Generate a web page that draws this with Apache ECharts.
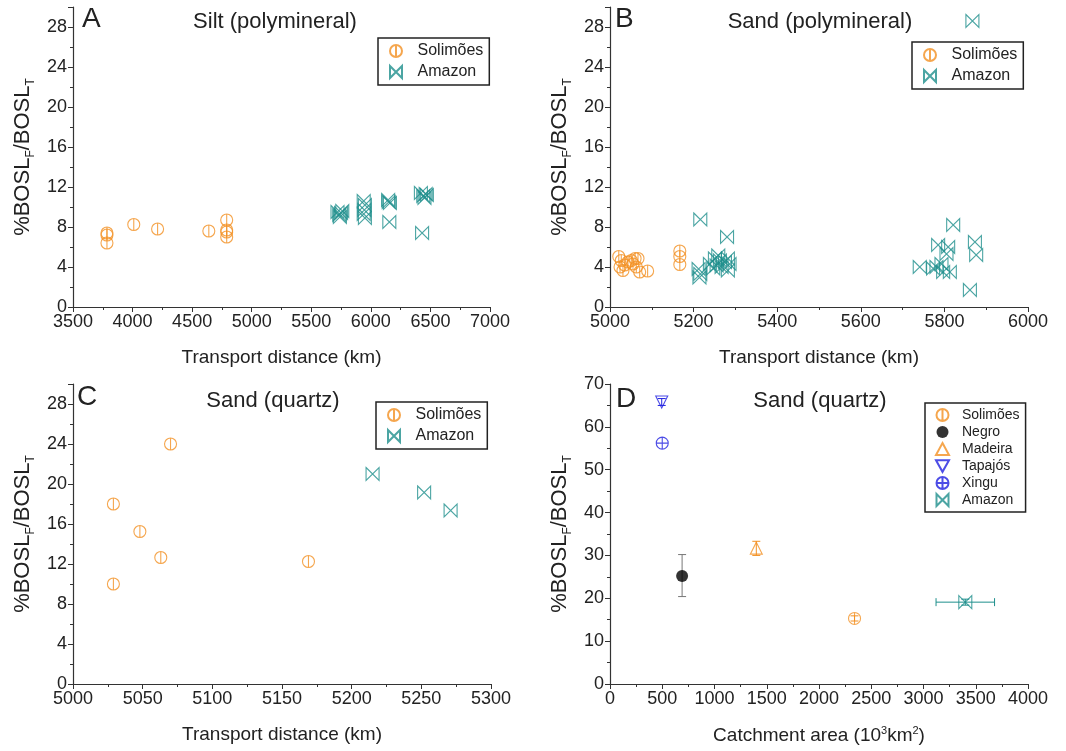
<!DOCTYPE html>
<html>
<head>
<meta charset="utf-8">
<script src="https://cdn.jsdelivr.net/npm/echarts@6/dist/echarts.min.js"></script>
<style>
  html, body { margin: 0; padding: 0; background: #fff; }
  #main { width: 1066px; height: 751px; }
</style>
</head>
<body>
<div id="main"></div>
<script>
// ---- data ----
// A: silt (polymineral), [transport distance km, %BOSLF/BOSLT]
var siltSolimoes = [[3785, 7.4], [3785, 7.2], [3785, 6.4], [4010, 8.25], [4210, 7.8],
  [4640, 7.6], [4790, 8.7], [4790, 7.7], [4790, 7.5], [4790, 7.0]];
var siltAmazon = [[5720, 9.5], [5735, 9.2], [5750, 9.4], [5740, 9.0], [5760, 9.6],
  [5940, 10.6], [5950, 10.2], [5945, 9.7], [5940, 9.3], [5950, 8.9],
  [6145, 10.7], [6160, 10.4], [6150, 10.5], [6155, 8.5],
  [6420, 11.4], [6440, 11.1], [6460, 11.3], [6450, 10.9], [6470, 11.2], [6430, 7.4]];
// B: sand (polymineral)
var sandPolySolimoes = [[5021, 5.05], [5024, 4.0], [5027, 4.65], [5031, 3.65], [5035, 4.2],
  [5043, 4.5], [5051, 4.65], [5055, 4.3], [5060, 4.85], [5067, 4.85], [5063, 4.0],
  [5071, 3.5], [5090, 3.6], [5167, 5.6], [5167, 5.05], [5167, 4.25]];
var sandPolyAmazon = [[5216, 8.75], [5212, 3.8], [5216, 3.3], [5214, 2.95], [5280, 7.0],
  [5239, 4.3], [5251, 4.85], [5255, 4.15], [5263, 4.65], [5267, 4.0], [5275, 4.5],
  [5282, 4.85], [5282, 3.65], [5286, 4.3], [5247, 3.85], [5259, 5.15],
  [5741, 4.0], [5773, 3.85], [5781, 4.0], [5793, 4.3], [5797, 3.5], [5813, 3.5],
  [5785, 6.2], [5809, 6.0], [5805, 5.3], [5821, 8.2], [5873, 6.5], [5876, 5.2],
  [5861, 1.7], [5867, 28.6]];
// C: sand (quartz)
var quartzSolimoes = [[5070, 24.0], [5029, 18.0], [5048, 15.25], [5063, 12.65], [5029, 10.0], [5169, 12.25]];
var quartzAmazon = [[5215, 21.0], [5252, 19.15], [5271, 17.35]];
// D: sand (quartz) vs catchment area, [area, value, xLow, xHigh, yLow, yHigh]
var catchSolimoes = [[2340, 15.3, 2340, 2340, 14.7, 15.9]];
var catchNegro = [[690, 25.2, 690, 690, 20.4, 30.2]];
var catchMadeira = [[1400, 31.7, 1400, 1400, 30.0, 33.3]];
var catchTapajos = [[495, 65.8, 495, 495, 65.0, 66.6]];
var catchXingu = [[500, 56.2, 500, 500, 56.2, 56.2]];
var catchAmazon = [[3400, 19.1, 3120, 3680, 18.4, 19.8]];

var panelTitles = ['Silt (polymineral)', 'Sand (polymineral)', 'Sand (quartz)', 'Sand (quartz)'];
var panelLetters = ['A', 'B', 'C', 'D'];

var orange = '#f39022', teal = '#1e8f8c', blue = '#2020e0';
var font = 'Liberation Sans';
var ink = '#222';

var symCircleBar = 'path://M0,-10A10,10,0,1,1,0,10A10,10,0,1,1,0,-10ZM0,-10L0,10';
var symBowtie = 'path://M-10,-10L10,10L10,-10L-10,10Z';
var symCircleCross = 'path://M0,-10A10,10,0,1,1,0,10A10,10,0,1,1,0,-10ZM0,-10L0,10M-10,0L10,0';
var symTriDown = 'path://M-10,-8L10,-8L0,10Z';

var chart = echarts.init(document.getElementById('main'));

var grids = [
  { left: 73, top: 7, width: 417, height: 300 },
  { left: 610, top: 7, width: 418, height: 300 },
  { left: 73, top: 384, width: 418, height: 300 },
  { left: 610, top: 384, width: 418, height: 300 }
];

function plainNum(v) { return String(v); }

function xAxisOf(i, min, max, interval, name) {
  return {
    type: 'value', gridIndex: i, min: min, max: max, interval: interval,
    name: name, nameLocation: 'middle', nameGap: 41,
    nameTextStyle: { fontFamily: font, fontSize: 19, color: ink,
      rich: { sup: { fontFamily: font, fontSize: 11, color: ink, verticalAlign: 'top', lineHeight: 22 } } },
    axisLine: { lineStyle: { color: '#333', width: 1.2 } },
    axisTick: { length: 5, lineStyle: { color: '#333' } },
    minorTick: { show: true, splitNumber: 2, length: 3, lineStyle: { color: '#333' } },
    splitLine: { show: false },
    axisLabel: { fontFamily: font, fontSize: 18, color: ink, margin: 6, formatter: plainNum }
  };
}

function yAxisOf(i, max, interval) {
  return {
    type: 'value', gridIndex: i, min: 0, max: max, interval: interval,
    name: '%BOSL{sub|F}/BOSL{sub|T}', nameLocation: 'middle', nameGap: 36,
    nameTextStyle: { fontFamily: font, fontSize: 22, color: ink, lineHeight: 28,
      rich: { sub: { fontFamily: font, fontSize: 12, color: ink, verticalAlign: 'bottom', lineHeight: 28 } } },
    axisLine: { show: true, lineStyle: { color: '#333', width: 1.2 } },
    axisTick: { length: 5, lineStyle: { color: '#333' } },
    minorTick: { show: true, splitNumber: 2, length: 3, lineStyle: { color: '#333' } },
    splitLine: { show: false },
    axisLabel: { fontFamily: font, fontSize: 18, color: ink, margin: 6, formatter: plainNum,
      showMaxLabel: max % interval === 0 }
  };
}

function scatterOf(i, name, data, symbol, color, size) {
  return {
    type: 'scatter', name: name, xAxisIndex: i, yAxisIndex: i, data: data,
    symbol: symbol, symbolSize: size,
    itemStyle: { color: 'rgba(0,0,0,0)', borderColor: color, borderWidth: 1.1 },
    z: 3
  };
}

function errorBarsOf(i, data, color) {
  return {
    type: 'custom', xAxisIndex: i, yAxisIndex: i, data: data, silent: true, z: 2,
    renderItem: function (params, api) {
      var x = api.value(0), y = api.value(1);
      var xlo = api.value(2), xhi = api.value(3), ylo = api.value(4), yhi = api.value(5);
      var style = { stroke: color, lineWidth: 1 };
      var kids = [], cap = 4, a, b;
      if (ylo !== yhi) {
        a = api.coord([x, ylo]); b = api.coord([x, yhi]);
        kids.push({ type: 'line', shape: { x1: a[0], y1: a[1], x2: b[0], y2: b[1] }, style: style });
        kids.push({ type: 'line', shape: { x1: a[0] - cap, y1: a[1], x2: a[0] + cap, y2: a[1] }, style: style });
        kids.push({ type: 'line', shape: { x1: b[0] - cap, y1: b[1], x2: b[0] + cap, y2: b[1] }, style: style });
      }
      if (xlo !== xhi) {
        a = api.coord([xlo, y]); b = api.coord([xhi, y]);
        kids.push({ type: 'line', shape: { x1: a[0], y1: a[1], x2: b[0], y2: b[1] }, style: style });
        kids.push({ type: 'line', shape: { x1: a[0], y1: a[1] - cap, x2: a[0], y2: a[1] + cap }, style: style });
        kids.push({ type: 'line', shape: { x1: b[0], y1: b[1] - cap, x2: b[0], y2: b[1] + cap }, style: style });
      }
      return { type: 'group', children: kids };
    }
  };
}

function legendOf(left, top, names, fontSize, gap, padLeft, textPad) {
  return {
    left: left, top: top, orient: 'vertical', data: names,
    borderColor: '#222', borderWidth: 1.5, borderRadius: 0,
    padding: [5, 6, 5, padLeft], itemGap: gap, itemWidth: 13, itemHeight: 12,
    selectedMode: false,
    textStyle: { fontFamily: font, fontSize: fontSize, color: ink, padding: [0, 0, 0, textPad] }
  };
}

var titles = [];
var titleX = [275, 820, 273, 820];
var titleY = [11, 11, 390, 390];
var letterX = [82, 615, 77, 616];
var letterY = [5, 5, 383, 385];
for (var k = 0; k < 4; k++) {
  titles.push({ text: panelTitles[k], left: titleX[k], top: titleY[k], textAlign: 'center', padding: 0,
    textStyle: { fontFamily: font, fontSize: 22, fontWeight: 'normal', color: ink } });
  titles.push({ text: panelLetters[k], left: letterX[k], top: letterY[k], padding: 0,
    textStyle: { fontFamily: font, fontSize: 28, fontWeight: 'normal', color: ink } });
}

var option = {
  backgroundColor: '#fff',
  animation: false,
  title: titles,
  grid: grids,
  xAxis: [
    xAxisOf(0, 3500, 7000, 500, 'Transport distance (km)'),
    xAxisOf(1, 5000, 6000, 200, 'Transport distance (km)'),
    xAxisOf(2, 5000, 5300, 50, 'Transport distance (km)'),
    xAxisOf(3, 0, 4000, 500, 'Catchment area (10{sup|3}km{sup|2})')
  ],
  yAxis: [yAxisOf(0, 30, 4), yAxisOf(1, 30, 4), yAxisOf(2, 30, 4), yAxisOf(3, 70, 10)],
  legend: [
    legendOf(378, 38, ['Solimões', 'Amazon'], 16, 5, 11, 10),
    legendOf(912, 42, ['Solimões', 'Amazon'], 16, 5, 11, 10),
    legendOf(376, 402, ['Solimões', 'Amazon'], 16, 5, 11, 10),
    legendOf(925, 403, ['Solimões', 'Negro', 'Madeira', { name: 'Tapajós', icon: symTriDown }, 'Xingu', 'Amazon'], 14, 3, 10, 8)
  ],
  series: [
    scatterOf(0, 'Solimões', siltSolimoes, symCircleBar, orange, 12),
    scatterOf(0, 'Amazon', siltAmazon, symBowtie, teal, 13),
    scatterOf(1, 'Solimões', sandPolySolimoes, symCircleBar, orange, 12),
    scatterOf(1, 'Amazon', sandPolyAmazon, symBowtie, teal, 13),
    scatterOf(2, 'Solimões', quartzSolimoes, symCircleBar, orange, 12),
    scatterOf(2, 'Amazon', quartzAmazon, symBowtie, teal, 13),
    errorBarsOf(3, catchNegro, '#777'),
    errorBarsOf(3, catchMadeira, orange),
    errorBarsOf(3, catchTapajos, blue),
    errorBarsOf(3, catchSolimoes, orange),
    errorBarsOf(3, catchAmazon, teal),
    scatterOf(3, 'Solimões', catchSolimoes, symCircleBar, orange, 12),
    {
      type: 'scatter', name: 'Negro', xAxisIndex: 3, yAxisIndex: 3, data: catchNegro,
      symbol: 'circle', symbolSize: 12, itemStyle: { color: '#000' }, z: 3
    },
    scatterOf(3, 'Madeira', catchMadeira, 'triangle', orange, 12),
    scatterOf(3, 'Tapajós', catchTapajos, symTriDown, blue, 12),
    scatterOf(3, 'Xingu', catchXingu, symCircleCross, blue, 12),
    scatterOf(3, 'Amazon', catchAmazon, symBowtie, teal, 13)
  ]
};

chart.setOption(option);
</script>
</body>
</html>
